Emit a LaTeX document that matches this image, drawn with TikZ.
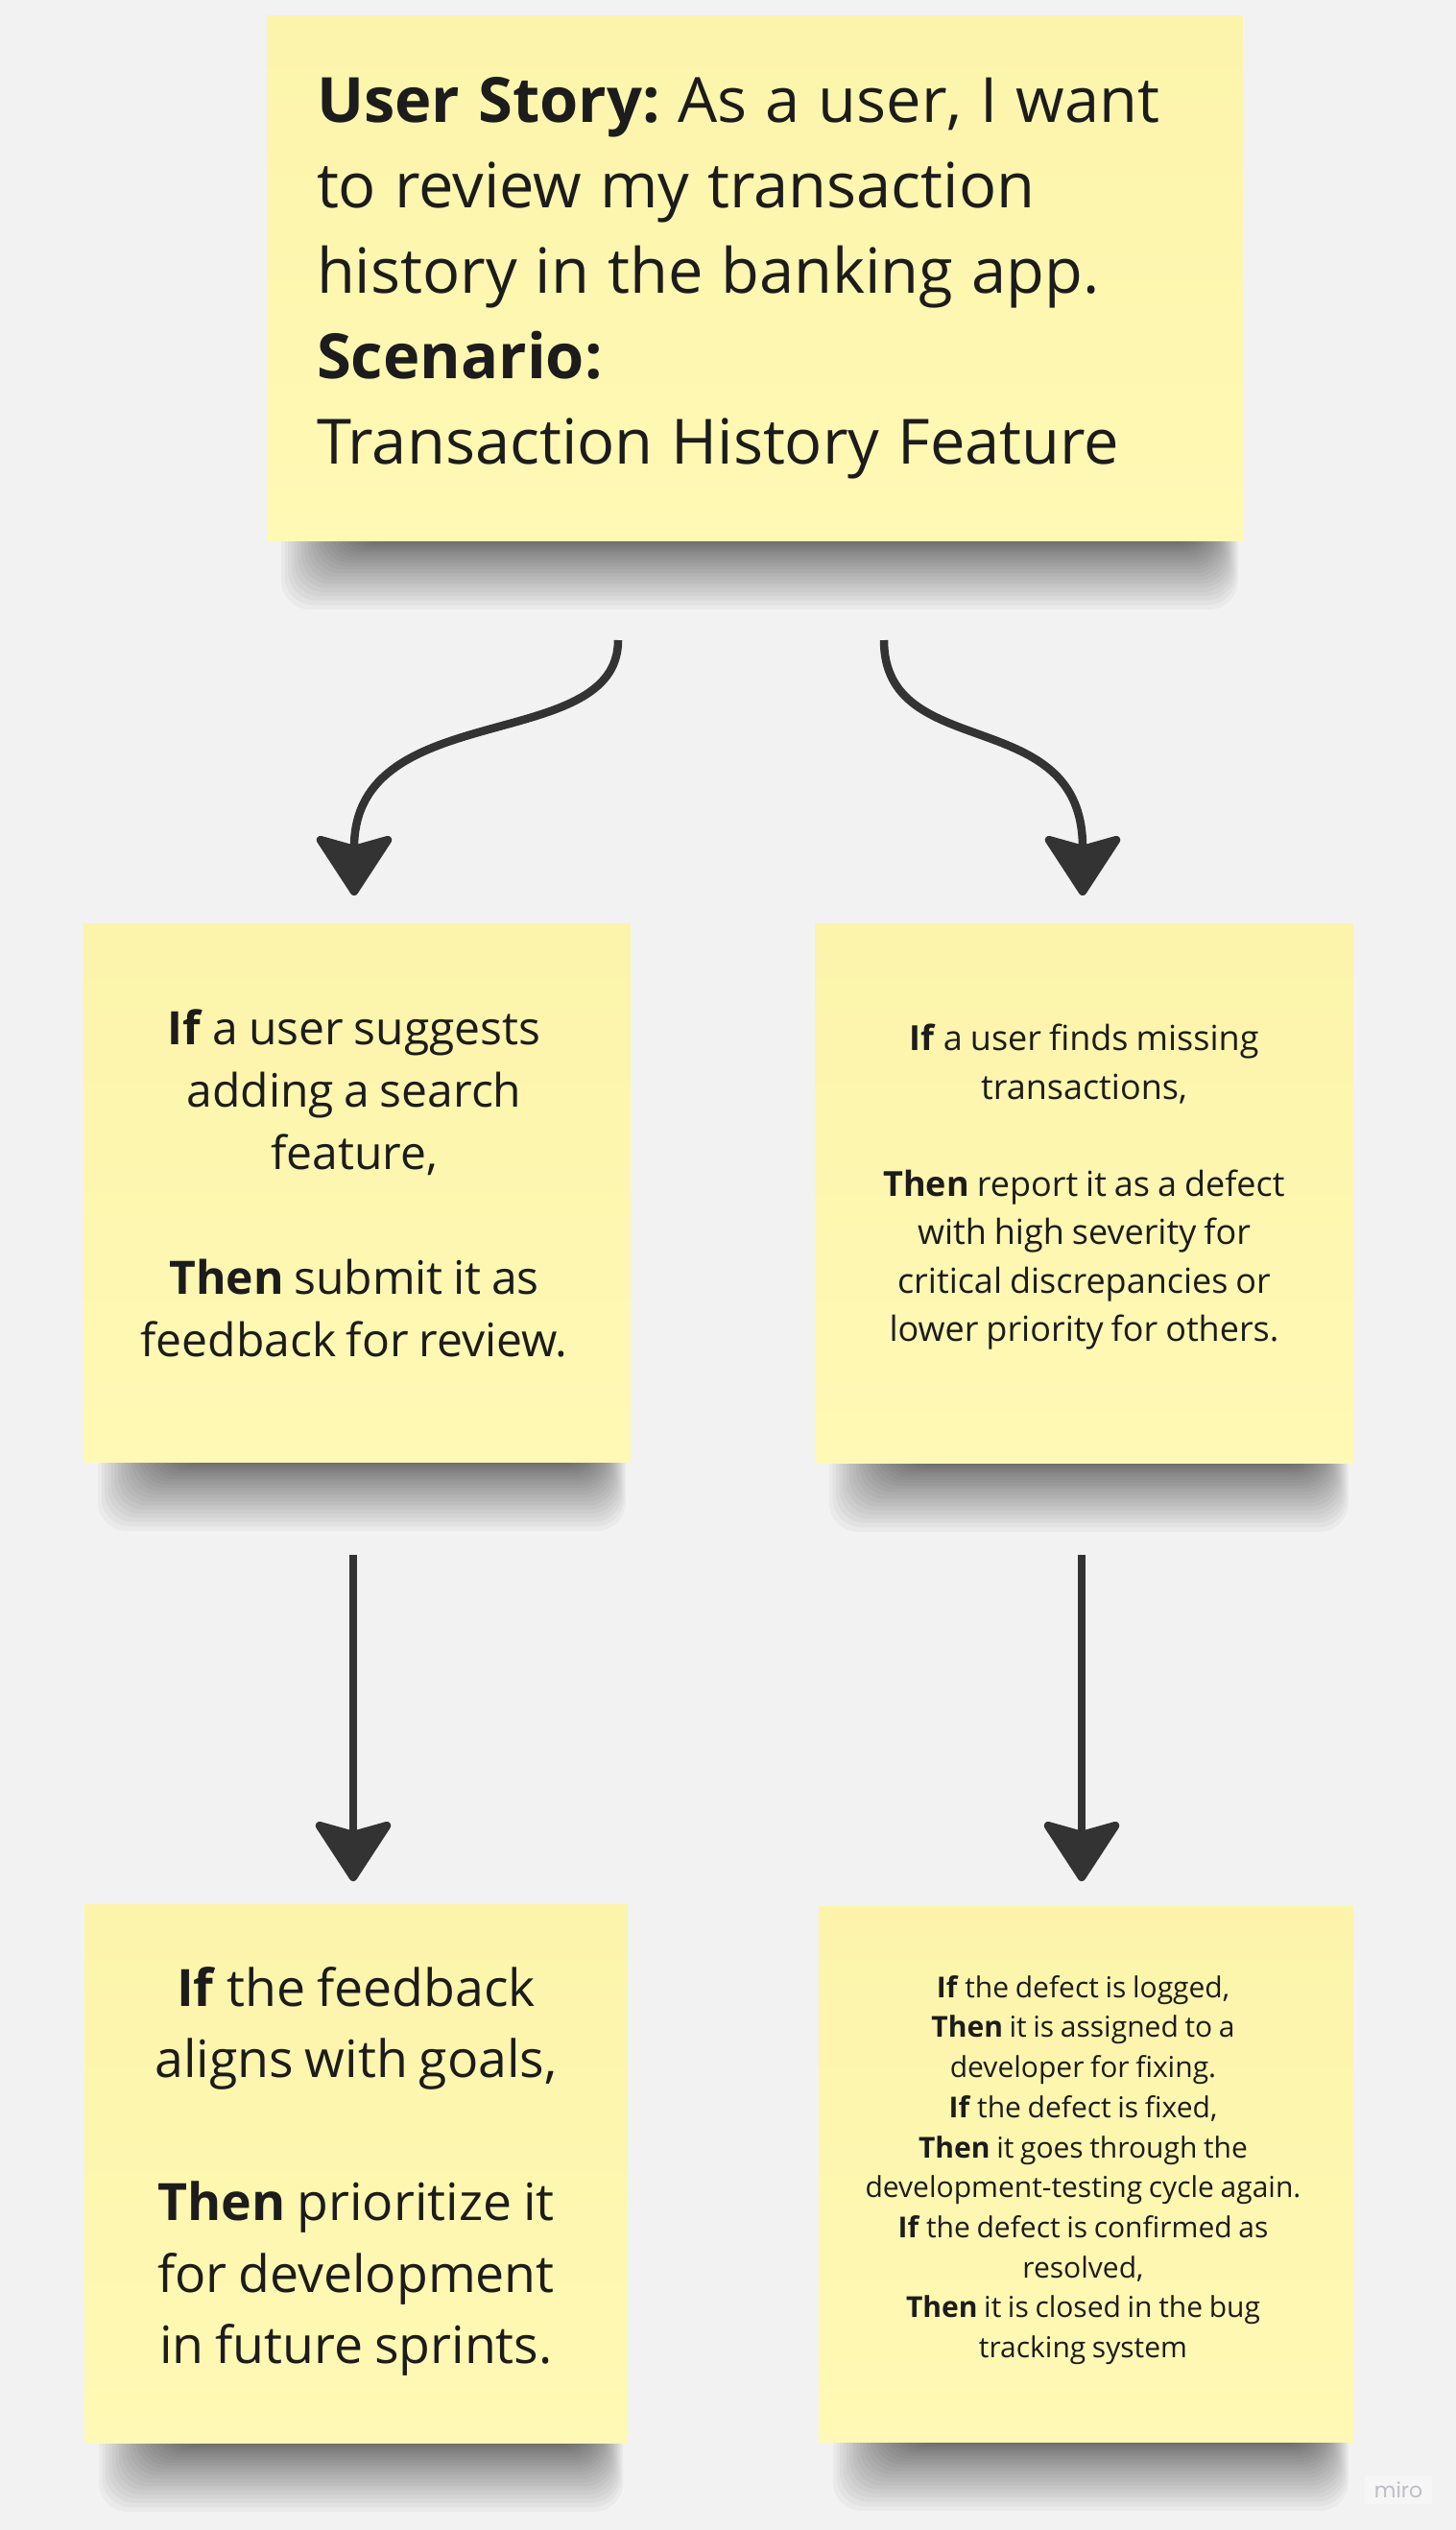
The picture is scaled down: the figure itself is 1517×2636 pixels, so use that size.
\documentclass[tikz,border=0pt]{standalone}
\usepackage{fontspec}
\setmainfont{Open Sans}[WordSpace=0.85]
\newfontfamily\mirofont{Poppins}
\usetikzlibrary{arrows.meta}
\frenchspacing
\definecolor{bgc}{HTML}{F2F2F2}
\definecolor{notetop}{HTML}{FCF4AB}
\definecolor{notebot}{HTML}{FFF9B5}
\definecolor{arrowc}{HTML}{333333}
\definecolor{txtc}{HTML}{1C1C1C}
\definecolor{miroc}{HTML}{BEBEC6}
\definecolor{mirobg}{HTML}{F6F6F6}
\newcommand\notesh[3]{%
  \foreach \i in {0,...,23}{%
    \fill[black,fill opacity=0.03,rounded corners=30pt]
      ({#1+15+3.5*\i},{#3-80}) rectangle ({#2-5-1.6*\i},{#3+72*(1-\i/24)^1.6});
  }%
}
\begin{document}
\begin{tikzpicture}[x=1pt,y=-1pt,
  note/.style={top color=notetop,bottom color=notebot,draw=none,inner sep=0pt,text=txtc,align=center},
  notetext/.style={inner sep=0pt,text=txtc,align=center},
  arr/.style={draw=arrowc,line width=8.5pt,-{Stealth[length=68pt,width=88pt,inset=12pt,round]}}]
\fill[bgc] (0,0) rectangle (1517,2636);
\useasboundingbox (0,0) rectangle (1517,2636);

% shadows
\notesh{278}{1295}{563}
\notesh{87}{657}{1523}
\notesh{849}{1410}{1524}
\notesh{88}{654}{2545}
\notesh{853}{1410}{2544}

% notes
\node[note, minimum width=1017pt, minimum height=546pt, text width=913pt, inner xsep=52pt, align=left, font=\fontsize{65}{89}\selectfont] (story) at (786.5,290)
  {\spaceskip=19pt\relax\textbf{User Story:} As a user, I want\\ to review my transaction\\ history in the banking app.\\ \textbf{Scenario:}\\ Transaction History Feature};

\node[note, minimum width=570pt, minimum height=561pt] (ifsearch) at (372,1242.5) {};
\node[notetext, font=\fontsize{48}{65}\selectfont] (ifsearch-t) at ([xshift=-3pt,yshift=10pt]ifsearch.center)
  {\textbf{If} a user suggests\\ adding a search\\ feature,\\[65pt] \textbf{Then} submit it as\\ feedback for review.};

\node[note, minimum width=561pt, minimum height=562pt] (ifmissing) at (1129.5,1243) {};
\node[notetext, font=\fontsize{36}{50.5}\selectfont] (ifmissing-t) at ([yshift=6pt]ifmissing.center)
  {\textbf{If} a user finds missing\\ transactions,\\[50.5pt] \textbf{Then} report it as a defect\\ with high severity for\\ critical discrepancies or\\ lower priority for others.};

\node[note, minimum width=566pt, minimum height=561pt] (ifgoals) at (371,2264.5) {};
\node[notetext, font=\fontsize{53.6}{74.5}\selectfont] (ifgoals-t) at ([yshift=2pt]ifgoals.center)
  {\textbf{If} the feedback\\ aligns with goals,\\[74.5pt] \textbf{Then} prioritize it\\ for development\\ in future sprints.};

\node[note, minimum width=557pt, minimum height=558pt] (iflogged) at (1131.5,2265) {};
\node[notetext, font=\fontsize{30}{41.7}\selectfont] (iflogged-t) at ([xshift=-3pt,yshift=4pt]iflogged.center)
  {\textbf{If} the defect is logged,\\ \textbf{Then} it is assigned to a\\ developer for fixing.\\ \textbf{If} the defect is fixed,\\ \textbf{Then} it goes through the\\ development-testing cycle again.\\ \textbf{If} the defect is confirmed as\\ resolved,\\ \textbf{Then} it is closed in the bug\\ tracking system};

% connector end points
\coordinate (l1s) at (644,667);
\coordinate (l1e) at (369,933);
\coordinate (r1s) at (921,667);
\coordinate (r1e) at (1128,933);
\coordinate (l2s) at (368,1620);
\coordinate (l2e) at (368,1960);
\coordinate (r2s) at (1127,1620);
\coordinate (r2e) at (1127,1960);

\draw[arr] (l1s) .. controls +(0,120) and +(0,-208) .. (l1e);
\draw[arr] (r1s) .. controls +(0,130) and +(0,-202) .. (r1e);
\draw[arr] (l2s) -- (l2e);
\draw[arr] (r2s) -- (r2e);

\node[fill=mirobg, text=miroc, font=\mirofont\fontsize{22}{26}\selectfont, inner xsep=10pt, inner ysep=6pt] (miro) at (1457,2594) {miro};
\end{tikzpicture}
\end{document}
